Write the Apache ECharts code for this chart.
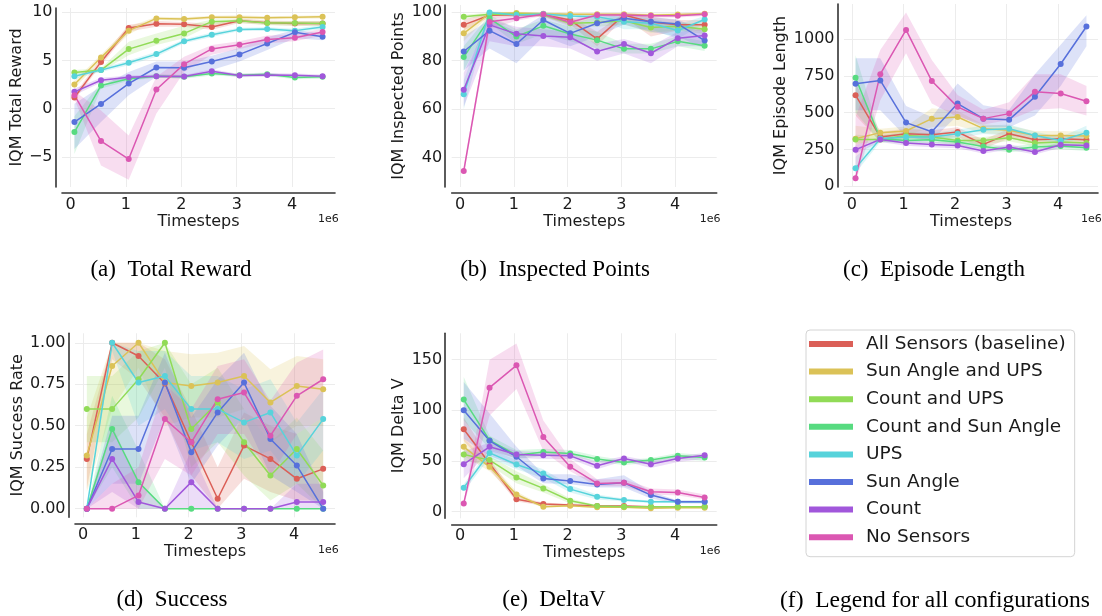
<!DOCTYPE html>
<html>
<head>
<meta charset="utf-8">
<script src="https://cdn.jsdelivr.net/npm/echarts@6/dist/echarts.min.js"></script>
<style>
html, body { margin: 0; padding: 0; background: #fff; }
#chart { width: 1102px; height: 616px; }
</style>
</head>
<body>
<div id="chart"></div>
<script>
// Sensor configurations, in legend order
const configs = ['All Sensors (baseline)', 'Sun Angle and UPS', 'Count and UPS', 'Count and Sun Angle', 'UPS', 'Sun Angle', 'Count', 'No Sensors'];
const colors = ['#db5f57', '#dbc257', '#91db57', '#57db80', '#57d3db', '#5770db', '#a157db', '#db57b2'];

// Evaluation points (timesteps, in units of 1e6)
const timesteps = [0.07, 0.55, 1.05, 1.55, 2.05, 2.55, 3.05, 3.55, 4.05, 4.55];
const xTicks = [0, 1, 2, 3, 4];

// (a) IQM total reward: one row per configuration
const rewardMean = [
  [1.15, 4.85, 8.37, 8.82, 8.75, 8.47, 9.13, 8.92, 8.85, 8.85],
  [2.5, 5.3, 8.1, 9.37, 9.3, 9.48, 9.5, 9.44, 9.48, 9.55],
  [3.75, 4.0, 6.18, 7.05, 7.81, 9.03, 9.13, 8.9, 8.9, 8.85],
  [-2.43, 2.4, 3.1, 3.37, 3.3, 3.65, 3.47, 3.58, 3.23, 3.3],
  [3.37, 4.0, 4.76, 5.66, 7.0, 7.67, 8.23, 8.26, 8.1, 8.47],
  [-1.39, 0.49, 2.6, 4.27, 4.24, 4.9, 5.63, 6.77, 7.92, 7.47],
  [1.74, 2.95, 3.26, 3.37, 3.33, 3.89, 3.44, 3.5, 3.47, 3.37],
  [1.39, -3.37, -5.24, 1.98, 4.62, 6.2, 6.63, 7.19, 7.36, 7.95]
];
const rewardLow = [
  [0.9, 4.5, 8.0, 8.5, 8.5, 8.2, 8.9, 8.7, 8.6, 8.6],
  [2.1, 5.0, 7.7, 9.2, 9.1, 9.3, 9.3, 9.25, 9.3, 9.35],
  [3.5, 3.8, 5.55, 6.6, 7.3, 8.7, 8.9, 8.65, 8.6, 8.6],
  [-4.7, 2.1, 2.9, 3.2, 3.1, 3.45, 3.3, 3.4, 3.05, 3.1],
  [3.1, 3.8, 4.5, 5.4, 6.8, 7.45, 8.05, 8.05, 7.9, 8.25],
  [-4.2, -1.4, 1.4, 3.3, 3.4, 4.0, 4.9, 6.1, 7.3, 7.1],
  [1.4, 2.7, 3.05, 3.2, 3.15, 3.65, 3.25, 3.3, 3.3, 3.2],
  [1.0, -5.9, -7.4, -0.5, 3.8, 5.6, 6.2, 6.8, 7.0, 7.6]
];
const rewardHigh = [
  [1.5, 5.2, 8.7, 9.1, 9.0, 8.8, 9.35, 9.15, 9.1, 9.1],
  [2.9, 5.6, 8.5, 9.55, 9.5, 9.65, 9.7, 9.6, 9.65, 9.7],
  [4.0, 4.2, 6.94, 7.8, 8.6, 9.25, 9.3, 9.1, 9.1, 9.1],
  [-0.8, 2.7, 3.3, 3.55, 3.5, 3.85, 3.65, 3.75, 3.4, 3.5],
  [3.6, 4.2, 5.0, 5.9, 7.2, 7.9, 8.4, 8.45, 8.3, 8.7],
  [0.5, 2.3, 3.8, 4.9, 4.9, 5.5, 6.3, 7.4, 8.2, 7.8],
  [2.1, 3.2, 3.45, 3.55, 3.5, 4.1, 3.6, 3.7, 3.65, 3.55],
  [1.8, -0.2, -2.8, 3.3, 5.4, 6.6, 7.0, 7.6, 7.7, 8.3]
];
const rewardTicks = [-5, 0, 5, 10];

// (b) IQM inspected points
const pointsMean = [
  [94.8, 98.8, 99.0, 99.0, 96.8, 89.0, 98.9, 96.0, 94.8, 94.8],
  [91.3, 99.5, 99.7, 99.4, 99.2, 99.2, 99.2, 98.8, 99.1, 99.4],
  [98.2, 99.2, 99.3, 99.0, 95.5, 95.8, 96.5, 93.7, 94.2, 93.0],
  [81.5, 97.5, 90.0, 94.4, 91.0, 88.5, 84.9, 84.9, 88.0, 86.2],
  [66.2, 99.9, 98.9, 99.3, 98.5, 98.2, 96.1, 95.5, 92.5, 97.0],
  [83.8, 92.4, 86.9, 96.8, 91.3, 95.5, 97.5, 96.1, 95.2, 88.3],
  [68.0, 94.8, 91.1, 90.2, 89.7, 83.8, 86.9, 83.1, 89.3, 90.4],
  [34.5, 96.1, 97.5, 99.2, 95.9, 98.9, 98.9, 98.6, 98.6, 99.2]
];
const pointsLow = [
  [92.5, 97.8, 98.2, 98.2, 95.0, 86.0, 97.8, 90.0, 92.5, 92.5],
  [88.0, 98.8, 99.1, 98.8, 98.6, 98.6, 98.6, 98.2, 98.5, 98.8],
  [97.2, 98.5, 98.6, 98.2, 94.0, 94.0, 95.0, 91.5, 92.5, 91.0],
  [76.0, 95.5, 87.0, 91.0, 88.0, 85.0, 83.0, 83.0, 86.0, 84.0],
  [60.0, 99.2, 98.0, 98.5, 97.5, 97.0, 93.0, 93.0, 89.0, 95.5],
  [76.0, 85.0, 79.0, 90.0, 86.0, 90.0, 95.0, 92.0, 90.0, 85.0],
  [61.0, 88.0, 86.0, 86.0, 85.0, 80.0, 83.0, 79.0, 86.0, 86.0],
  [33.0, 93.0, 96.5, 98.5, 94.5, 98.2, 98.2, 97.8, 97.8, 98.5]
];
const pointsHigh = [
  [97.0, 99.6, 99.7, 99.7, 98.3, 92.0, 99.6, 98.0, 96.8, 96.8],
  [94.0, 100.1, 100.2, 100.0, 99.8, 99.8, 99.8, 99.4, 99.7, 100.0],
  [99.0, 99.8, 99.9, 99.7, 97.0, 97.5, 98.0, 95.5, 96.0, 95.0],
  [86.0, 99.0, 93.0, 97.0, 94.0, 92.0, 87.0, 87.0, 90.0, 88.0],
  [72.0, 100.5, 99.6, 100.0, 99.3, 99.2, 98.0, 97.5, 95.0, 98.5],
  [90.0, 97.0, 92.0, 99.0, 95.0, 98.0, 99.0, 98.0, 97.0, 92.0],
  [75.0, 97.0, 94.0, 93.0, 92.0, 87.0, 89.0, 86.0, 92.0, 93.0],
  [36.5, 98.0, 98.4, 99.8, 97.2, 99.5, 99.5, 99.3, 99.3, 99.8]
];
const pointsTicks = [40, 60, 80, 100];

// (c) IQM episode length
const lengthMean = [
  [618, 334, 357, 350, 368, 284, 357, 316, 323, 316],
  [323, 364, 375, 459, 470, 391, 380, 345, 345, 341],
  [318, 318, 345, 334, 311, 311, 330, 293, 300, 293],
  [736, 323, 311, 316, 300, 270, 248, 266, 273, 261],
  [123, 323, 334, 334, 357, 384, 391, 345, 311, 364],
  [695, 718, 432, 370, 561, 459, 452, 607, 830, 1084],
  [248, 318, 293, 284, 277, 239, 266, 232, 282, 277],
  [55, 761, 1061, 714, 539, 459, 493, 641, 630, 577]
];
const lengthLow = [
  [480, 300, 325, 320, 335, 255, 325, 290, 295, 290],
  [280, 335, 345, 400, 410, 360, 350, 315, 315, 315],
  [290, 295, 320, 310, 285, 285, 305, 270, 275, 270],
  [500, 300, 290, 295, 280, 250, 230, 245, 252, 240],
  [90, 300, 310, 310, 330, 355, 345, 320, 290, 330],
  [516, 516, 334, 311, 482, 400, 400, 480, 680, 950],
  [220, 300, 275, 265, 258, 222, 248, 215, 262, 258],
  [25, 584, 902, 561, 470, 420, 450, 520, 530, 480]
];
const lengthHigh = [
  [700, 370, 390, 380, 400, 315, 390, 345, 350, 345],
  [410, 390, 405, 530, 510, 420, 410, 375, 375, 370],
  [350, 345, 370, 360, 335, 335, 355, 320, 325, 320],
  [890, 345, 335, 340, 322, 292, 268, 288, 295, 282],
  [200, 345, 360, 360, 385, 410, 420, 370, 335, 410],
  [868, 868, 545, 470, 698, 550, 520, 760, 960, 1160],
  [280, 338, 312, 302, 296, 258, 285, 250, 300, 296],
  [470, 925, 1180, 857, 620, 520, 570, 760, 760, 680]
];
const lengthTicks = [0, 250, 500, 750, 1000];

// (d) IQM success rate
const successMean = [
  [0.30, 1.0, 0.92, 0.755, 0.40, 0.06, 0.38, 0.30, 0.18, 0.24],
  [0.32, 0.86, 1.0, 0.76, 0.74, 0.76, 0.80, 0.64, 0.74, 0.72],
  [0.60, 0.60, 0.78, 1.0, 0.48, 0.64, 0.40, 0.20, 0.36, 0.14],
  [0, 0.48, 0.16, 0, 0, 0, 0, 0, 0, 0],
  [0, 1.0, 0.76, 0.80, 0.60, 0.60, 0.52, 0.58, 0.32, 0.54],
  [0, 0.36, 0.36, 0.76, 0.34, 0.58, 0.76, 0.42, 0.26, 0],
  [0, 0.30, 0.04, 0, 0.16, 0, 0, 0, 0.04, 0.04],
  [0, 0, 0.08, 0.54, 0.40, 0.66, 0.70, 0.44, 0.68, 0.78]
];
const successLow = [
  [0.12, 0.9, 0.78, 0.55, 0.2, 0.0, 0.18, 0.1, 0.05, 0.05],
  [0.1, 0.6, 0.85, 0.5, 0.55, 0.55, 0.6, 0.4, 0.5, 0.5],
  [0.4, 0.4, 0.55, 0.85, 0.25, 0.4, 0.2, 0.05, 0.15, 0.0],
  [0, 0.25, 0, 0, 0, 0, 0, 0, 0, 0],
  [0, 0.95, 0.5, 0.6, 0.35, 0.4, 0.3, 0.35, 0.15, 0.35],
  [0, 0.15, 0.15, 0.55, 0.15, 0.38, 0.55, 0.2, 0.1, 0],
  [0, 0.1, 0, 0, 0, 0, 0, 0, 0, 0],
  [0, 0, 0, 0.3, 0.2, 0.45, 0.45, 0.2, 0.45, 0.55]
];
const successHigh = [
  [0.45, 1.0, 1.0, 0.9, 0.6, 0.25, 0.58, 0.5, 0.45, 0.55],
  [0.55, 1.0, 1.0, 0.95, 0.93, 0.94, 0.98, 0.84, 0.92, 0.9],
  [0.8, 0.8, 0.95, 1.0, 0.75, 0.85, 0.6, 0.4, 0.55, 0.35],
  [0, 0.68, 0.35, 0, 0, 0, 0, 0, 0, 0],
  [0, 1.0, 0.95, 0.95, 0.8, 0.8, 0.72, 0.78, 0.52, 0.72],
  [0, 0.56, 0.56, 0.94, 0.55, 0.78, 0.94, 0.62, 0.45, 0.1],
  [0, 0.5, 0.15, 0, 0.35, 0, 0, 0, 0.15, 0.15],
  [0, 0.15, 0.25, 0.75, 0.6, 0.86, 0.9, 0.65, 0.88, 0.96]
];
const successTicks = [0, 0.25, 0.5, 0.75, 1.0];

// (e) IQM delta V
const deltaVMean = [
  [81.4, 47.6, 12.3, 7.5, 6.6, 5.6, 5.6, 4.9, 4.9, 4.9],
  [64, 44.3, 17, 4.9, 5.9, 4.3, 4.3, 3.3, 3.8, 3.8],
  [56.4, 50.9, 33.8, 23.0, 10.8, 5.6, 4.9, 4.9, 4.9, 4.9],
  [110.6, 70.6, 55.8, 59, 57.4, 51.9, 48.6, 50.9, 55.1, 53.5],
  [23.6, 58, 46.6, 37.7, 22.3, 14.8, 11.5, 9.8, 9.8, 9.8],
  [100.1, 69.9, 54.2, 32.8, 30.2, 26.9, 28.6, 16.4, 9.8, 9.8],
  [46.9, 64, 56.4, 55.8, 55.1, 45.3, 52.5, 46.9, 52.5, 55.8],
  [8.2, 122.4, 144.4, 73.8, 44.3, 27.9, 28.6, 19.7, 19.0, 14.1]
];
const deltaVLow = [
  [70, 42, 10, 6, 5.5, 4.8, 4.8, 4.2, 4.2, 4.2],
  [55, 40, 14, 4.0, 5.0, 3.6, 3.6, 2.7, 3.1, 3.1],
  [50, 46, 28, 19, 8, 4.8, 4.2, 4.2, 4.2, 4.2],
  [90, 62, 52, 55, 55, 49, 46, 48, 52, 50],
  [20, 53, 42, 33, 19, 12, 10, 8.5, 8.5, 8.5],
  [72, 55, 45, 28, 27, 24, 24, 13, 8, 8],
  [33, 60, 53, 52, 52, 42, 50, 43, 49, 52],
  [6, 95, 121, 60, 40, 25, 25, 17, 16, 12]
];
const deltaVHigh = [
  [93, 52, 15, 9, 7.7, 6.4, 6.4, 5.6, 5.6, 5.6],
  [72, 49, 20, 5.8, 6.8, 5.0, 5.0, 4.0, 4.5, 4.5],
  [62, 55, 40, 27, 13, 6.4, 5.6, 5.6, 5.6, 5.6],
  [133, 75, 61, 62, 61, 55, 51, 53, 58, 56],
  [27, 62, 51, 42, 26, 17, 13, 11, 11, 11],
  [128, 97, 64, 37, 37, 32, 36, 20, 11, 11],
  [60, 68, 60, 59, 58, 49, 55, 50, 55, 58],
  [10, 150, 166, 90, 52, 32, 32, 23, 22, 17]
];
const deltaVTicks = [0, 50, 100, 150];

// Panel layout: plot area in pixels, value window and labels
const panels = [
  { mean: rewardMean, low: rewardLow, high: rewardHigh, ticks: rewardTicks, name: 'IQM Total Reward',
    grid: { left: 62, top: 8, width: 273, height: 179 }, yMin: -8.14, yMax: 10.45, nameGap: 31, decimals: 0,
    caption: '(a)  Total Reward', capX: 171, capY: 270 },
  { mean: pointsMean, low: pointsLow, high: pointsHigh, ticks: pointsTicks, name: 'IQM Inspected Points',
    grid: { left: 451.7, top: 5, width: 265, height: 182 }, yMin: 27.9, yMax: 103, nameGap: 38, decimals: 0,
    caption: '(b)  Inspected Points', capX: 555, capY: 270 },
  { mean: lengthMean, low: lengthLow, high: lengthHigh, ticks: lengthTicks, name: 'IQM Episode Length',
    grid: { left: 844, top: 4, width: 254, height: 183 }, yMin: -5, yMax: 1237, nameGap: 49, decimals: 0,
    caption: '(c)  Episode Length', capX: 934, capY: 270 },
  { mean: successMean, low: successLow, high: successHigh, ticks: successTicks, name: 'IQM Success Rate',
    grid: { left: 75, top: 333.3, width: 260, height: 184 }, yMin: -0.052, yMax: 1.057, nameGap: 43, decimals: 2,
    caption: '(d)  Success', capX: 172, capY: 600 },
  { mean: deltaVMean, low: deltaVLow, high: deltaVHigh, ticks: deltaVTicks, name: 'IQM Delta V',
    grid: { left: 451.7, top: 333.3, width: 265, height: 185 }, yMin: -6.5, yMax: 176, nameGap: 38, decimals: 0,
    caption: '(e)  DeltaV', capX: 554, capY: 600 }
];

const textColor = '#1a1a1a';
const spineColor = '#333333';
const gridLineColor = '#ececec';
const sans = 'DejaVu Sans';
const serif = 'Liberation Serif';

function formatTick(v, decimals) {
  return v.toFixed(decimals).replace('-', '\u2212');
}

// Shaded interval drawn as one polygon through the panel's coordinate system
function bandSeries(idx, low, high, color) {
  return {
    type: 'custom',
    xAxisIndex: idx,
    yAxisIndex: idx,
    silent: true,
    z: 2,
    data: timesteps.map((t, i) => [t, low[i], high[i]]),
    encode: { x: 0, y: [1, 2] },
    renderItem(params, api) {
      if (params.dataIndexInside !== 0) return null;
      const upper = [];
      const lower = [];
      for (let i = 0; i < timesteps.length; i++) {
        upper.push(api.coord([timesteps[i], high[i]]));
        lower.push(api.coord([timesteps[i], low[i]]));
      }
      return {
        type: 'polygon',
        shape: { points: upper.concat(lower.reverse()) },
        style: { fill: color, opacity: 0.2 }
      };
    }
  };
}

const grids = [];
const xAxes = [];
const yAxes = [];
const series = [];
const graphics = [];

panels.forEach((p, idx) => {
  grids.push(Object.assign({ containLabel: false }, p.grid));
  xAxes.push({
    type: 'value', gridIndex: idx, min: -0.154, max: 4.774, offset: 6,
    axisLine: { show: true, onZero: false, lineStyle: { color: spineColor, width: 1.6 } },
    axisTick: { show: false, customValues: xTicks },
    axisLabel: { customValues: xTicks, fontSize: 16, color: textColor, fontFamily: sans, margin: 4 },
    splitLine: { show: true, lineStyle: { color: gridLineColor, width: 1 } },
    name: 'Timesteps', nameLocation: 'middle', nameGap: 19,
    nameTextStyle: { fontSize: 16, color: textColor, fontFamily: sans }
  });
  yAxes.push({
    type: 'value', gridIndex: idx, min: p.yMin, max: p.yMax, offset: 6.5,
    axisLine: { show: true, onZero: false, lineStyle: { color: spineColor, width: 1.6 } },
    axisTick: { show: false, customValues: p.ticks },
    axisLabel: { customValues: p.ticks, fontSize: 16, color: textColor, fontFamily: sans, margin: 3,
      formatter: (v) => formatTick(v, p.decimals) },
    splitLine: { show: true, lineStyle: { color: gridLineColor, width: 1 } },
    name: p.name, nameLocation: 'middle', nameGap: p.nameGap,
    nameTextStyle: { fontSize: 16, color: textColor, fontFamily: sans }
  });

  configs.forEach((cfg, k) => {
    series.push(bandSeries(idx, p.low[k], p.high[k], colors[k]));
    series.push({
      type: 'line', name: cfg, xAxisIndex: idx, yAxisIndex: idx, z: 3,
      data: timesteps.map((t, i) => [t, p.mean[k][i]]),
      symbol: 'circle', symbolSize: 6, showSymbol: true,
      lineStyle: { color: colors[k], width: 1.5 },
      itemStyle: { color: colors[k] },
      emphasis: { disabled: true }
    });
  });

  // axis multiplier and caption
  graphics.push({
    type: 'text', left: p.grid.left + p.grid.width - 17, top: p.grid.top + p.grid.height + 27,
    style: { text: '1e6', fontSize: 11, fill: textColor, fontFamily: sans }
  });
  graphics.push({
    type: 'text', x: p.capX, y: p.capY,
    style: { text: p.caption, fontSize: 23, fill: '#000', fontFamily: serif,
      align: 'center', verticalAlign: 'middle' }
  });
});

graphics.push({
  type: 'text', x: 935, y: 601,
  style: { text: '(f)  Legend for all configurations', fontSize: 23.5, fill: '#000',
    fontFamily: serif, align: 'center', verticalAlign: 'middle' }
});

const chart = echarts.init(document.getElementById('chart'), null, { renderer: 'canvas' });
chart.setOption({
  animation: false,
  backgroundColor: '#ffffff',
  grid: grids,
  xAxis: xAxes,
  yAxis: yAxes,
  series: series,
  legend: {
    orient: 'vertical', left: 806, top: 330,
    data: configs.map((c, k) => ({ name: c, itemStyle: { color: colors[k] } })),
    icon: 'rect', itemWidth: 44, itemHeight: 6, itemGap: 5.6,
    selectedMode: false,
    textStyle: { fontSize: 18.5, color: textColor, fontFamily: sans, lineHeight: 22, padding: [0, 0, 0, 8] },
    backgroundColor: '#ffffff', borderColor: '#d4d4d4', borderWidth: 1, borderRadius: 4,
    padding: [3, 9, 8.5, 3]
  },
  graphic: graphics
});
</script>
</body>
</html>
